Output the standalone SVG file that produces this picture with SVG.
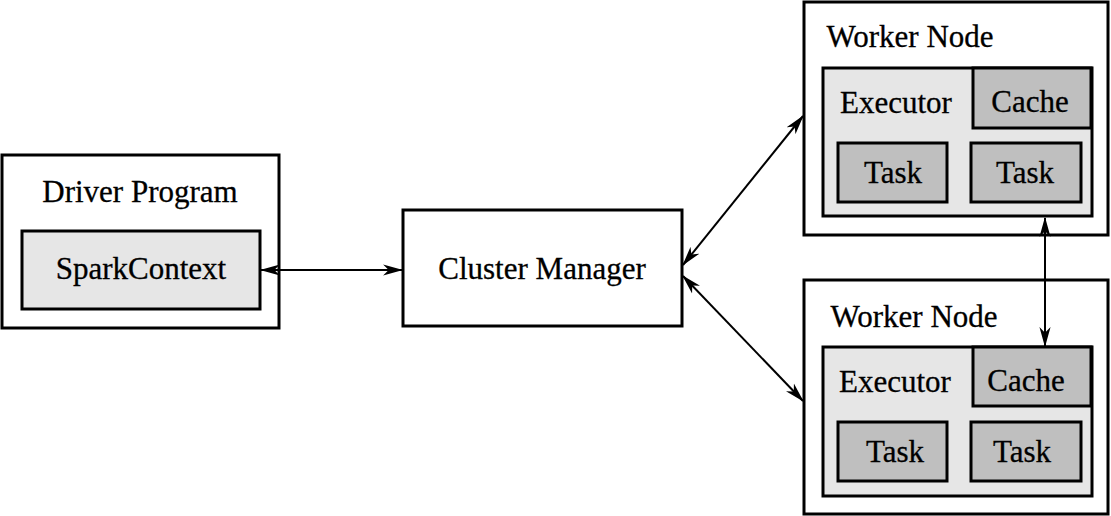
<svg xmlns="http://www.w3.org/2000/svg" width="1111" height="516" viewBox="0 0 1111 516">
<style>
.box{fill:#fff;stroke:#000;stroke-width:3}
.exec{fill:#e6e6e6;stroke:#000;stroke-width:3}
.dark{fill:#bfbfbf;stroke:#000;stroke-width:3}
.lbl{font-family:"Liberation Serif","Times New Roman",serif;font-size:31px;fill:#000;stroke:#000;stroke-width:0.3;text-anchor:middle}
.conn{stroke:#000;stroke-width:2;fill:none;marker-start:url(#ah);marker-end:url(#ah)}
</style>
<defs>
<marker id="ah" markerUnits="userSpaceOnUse" markerWidth="20" markerHeight="12" refX="17" refY="5" orient="auto-start-reverse" viewBox="0 0 18 10">
<path d="M0,0 L18,5 L0,10 L5,5 z" fill="#000"/>
</marker>
</defs>
<rect width="1111" height="516" fill="#fff"/>
<g id="driver">
<rect class="box" x="2" y="155" width="277" height="173"/>
<text class="lbl" x="140" y="202">Driver Program</text>
<rect class="exec" x="22" y="231" width="238" height="78"/>
<text class="lbl" x="141" y="279">SparkContext</text>
</g>
<g id="cluster">
<rect class="box" x="403" y="210" width="279" height="116"/>
<text class="lbl" x="542" y="279">Cluster Manager</text>
</g>
<g id="worker1">
<rect class="box" x="804" y="2" width="304" height="233"/>
<text class="lbl" x="910" y="47">Worker Node</text>
<rect class="exec" x="823" y="68" width="269" height="148"/>
<text class="lbl" x="896" y="113">Executor</text>
<rect class="dark" x="973" y="68" width="118" height="60"/>
<text class="lbl" x="1030" y="112">Cache</text>
<rect class="dark" x="838" y="143" width="109" height="59"/>
<text class="lbl" x="893" y="183">Task</text>
<rect class="dark" x="971" y="143" width="110" height="59"/>
<text class="lbl" x="1025" y="183">Task</text>
</g>
<g id="worker2">
<rect class="box" x="804" y="280" width="304" height="234"/>
<text class="lbl" x="914" y="327">Worker Node</text>
<rect class="exec" x="823" y="347" width="269" height="149"/>
<text class="lbl" x="895" y="392">Executor</text>
<rect class="dark" x="973" y="347" width="118" height="59"/>
<text class="lbl" x="1026" y="391">Cache</text>
<rect class="dark" x="838" y="422" width="109" height="59"/>
<text class="lbl" x="895" y="462">Task</text>
<rect class="dark" x="971" y="422" width="110" height="59"/>
<text class="lbl" x="1022" y="462">Task</text>
</g>
<g id="connectors">
<line class="conn" x1="261" y1="270" x2="402" y2="270"/>
<line class="conn" x1="683" y1="265" x2="803" y2="116"/>
<line class="conn" x1="683" y1="276" x2="803" y2="401"/>
<line class="conn" x1="1045" y1="218" x2="1045" y2="346"/>
</g>
</svg>
